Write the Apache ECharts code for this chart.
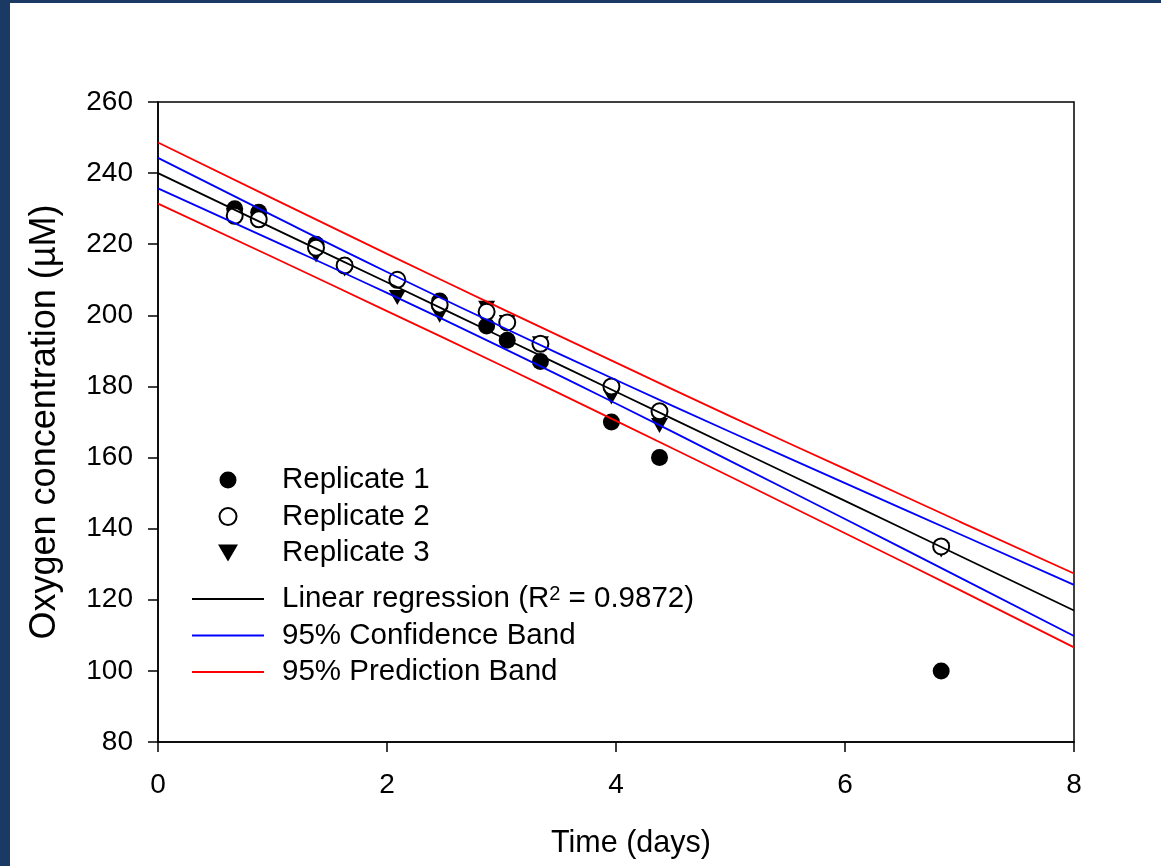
<!DOCTYPE html>
<html>
<head>
<meta charset="utf-8">
<script src="https://cdn.jsdelivr.net/npm/echarts@6/dist/echarts.min.js"></script>
<style>
    html, body { margin: 0; padding: 0; background: #1a3a64; }
    #chart { position: absolute; left: 10px; top: 3px; width: 1151px; height: 863px; background: #fff; }
</style>
</head>
<body>
<div id="chart"></div>
<script>
// sampling days (x) shared by the three replicates
const days = [0.67, 0.88, 1.38, 1.63, 2.09, 2.46, 2.87, 3.05, 3.34, 3.96, 4.38, 6.84];
const rep1 = [230, 229, 220, 214, null, 204, 197, 193, 187, 170, 160, 100];
const rep2 = [228, 227, 219, 214, 210, 203, 201, 198, 192, 180, 173, 135];
const rep3 = [228, 227, 217, 213, 205, 200, 202, 198, 192, 177, 169, 134];

// regression line and bands
const fitX = [0, 1, 2, 3, 4, 5, 6, 7, 8];
const fitLine = [240, 224.6, 209.3, 193.9, 178.5, 163.1, 147.8, 132.4, 117];
const confUpper = [244.3, 228.1, 212.2, 196.8, 181.8, 167.2, 152.8, 138.5, 124.2];
const confLower = [235.7, 221.1, 206.3, 191.0, 175.2, 159.0, 142.7, 126.3, 109.8];
const predUpper = [248.6, 232.9, 217.3, 201.9, 186.7, 171.6, 156.8, 142.0, 127.4];
const predLower = [231.4, 216.4, 201.2, 185.9, 170.3, 154.6, 138.7, 122.8, 106.6];

const xTicks = [0, 2, 4, 6, 8];
const yTicks = [80, 100, 120, 140, 160, 180, 200, 220, 240, 260];

const FONT = "Liberation Sans, Arial, sans-serif";
const TRIANGLE = "path://M0,0L20,0L10,17Z";
const FIT_NAME = "Linear regression (R² = 0.9872)";

const pairs = (xs, ys) => {
    let out = [];
    for (let i = 0; i < xs.length; i++) {
        if (ys[i] !== null) out.push([xs[i], ys[i]]);
    }
    return out;
};

const lineSeries = (name, ys, color) => ({
    name: name,
    type: "line",
    data: pairs(fitX, ys),
    symbol: "none",
    smooth: true,
    z: 5,
    lineStyle: { color: color, width: 1.8 },
    itemStyle: { color: color }
});

const legendText = {
    fontFamily: FONT,
    fontSize: 29.5,
    color: "#000",
    lineHeight: 30,
    padding: [0, 0, 0, 13],
    rich: {
        sup: { fontFamily: FONT, fontSize: 20, lineHeight: 17, verticalAlign: "top", color: "#000" }
    }
};

let chart = echarts.init(document.getElementById("chart"));

let option = {
    backgroundColor: "#fff",
    animation: false,
    textStyle: { fontFamily: FONT, color: "#000" },
    grid: {
        left: 148,
        top: 99,
        right: 87,
        bottom: 124,
        show: true,
        borderColor: "#000",
        borderWidth: 1.5
    },
    legend: [
        {
            // legend box is placed by its bounding rect (triangle icon edge)
            orient: "vertical",
            left: 208,
            top: 462,
            padding: 0,
            itemWidth: 72,
            itemHeight: 17,
            itemGap: 6.5,
            textStyle: legendText,
            data: [
                { name: "Replicate 1", icon: "circle" },
                { name: "Replicate 2", icon: "emptyCircle" },
                { name: "Replicate 3", icon: TRIANGLE }
            ]
        },
        {
            orient: "vertical",
            left: 182,
            top: 581,
            padding: 0,
            itemWidth: 72,
            itemHeight: 2,
            itemGap: 6.5,
            textStyle: legendText,
            formatter: name => name.replace("²", "{sup|2}"),
            data: [
                { name: FIT_NAME, icon: "rect" },
                { name: "95% Confidence Band", icon: "rect" },
                { name: "95% Prediction Band", icon: "rect" }
            ]
        }
    ],
    xAxis: {
        type: "value",
        min: xTicks[0],
        max: xTicks[xTicks.length - 1],
        interval: 2,
        name: "Time (days)",
        nameLocation: "middle",
        nameGap: 86,
        nameTextStyle: { fontFamily: FONT, fontSize: 30.5, color: "#000", padding: [0, 0, 0, 30] },
        axisLine: { lineStyle: { color: "#000", width: 1.5 } },
        axisTick: { show: true, length: 10, lineStyle: { color: "#000", width: 1.5 } },
        axisLabel: { fontFamily: FONT, fontSize: 28, color: "#000", margin: 29 },
        splitLine: { show: false }
    },
    yAxis: {
        type: "value",
        min: yTicks[0],
        max: yTicks[yTicks.length - 1],
        interval: 20,
        name: "Oxygen concentration (µM)",
        nameLocation: "middle",
        nameGap: 95,
        nameTextStyle: { fontFamily: FONT, fontSize: 36, color: "#000" },
        axisLine: { lineStyle: { color: "#000", width: 1.5 } },
        axisTick: { show: true, length: 10, lineStyle: { color: "#000", width: 1.5 } },
        axisLabel: { fontFamily: FONT, fontSize: 28, color: "#000", margin: 25 },
        splitLine: { show: false }
    },
    series: [
        {
            name: "Replicate 1",
            type: "scatter",
            data: pairs(days, rep1),
            symbol: "circle",
            symbolSize: 17,
            z: 2,
            itemStyle: { color: "#000", opacity: 1 }
        },
        {
            name: "Replicate 3",
            type: "scatter",
            data: pairs(days, rep3),
            symbol: TRIANGLE,
            symbolSize: [17, 15],
            z: 3,
            itemStyle: { color: "#000", opacity: 1 }
        },
        {
            name: "Replicate 2",
            type: "scatter",
            data: pairs(days, rep2),
            symbol: "emptyCircle",
            symbolSize: 16,
            z: 4,
            itemStyle: { color: "#000", borderWidth: 2, opacity: 1 }
        },
        lineSeries(FIT_NAME, fitLine, "#000"),
        lineSeries("95% Confidence Band", confUpper, "#0000ff"),
        lineSeries("95% Confidence Band", confLower, "#0000ff"),
        lineSeries("95% Prediction Band", predUpper, "#ff0000"),
        lineSeries("95% Prediction Band", predLower, "#ff0000")
    ]
};

chart.setOption(option);
</script>
</body>
</html>
